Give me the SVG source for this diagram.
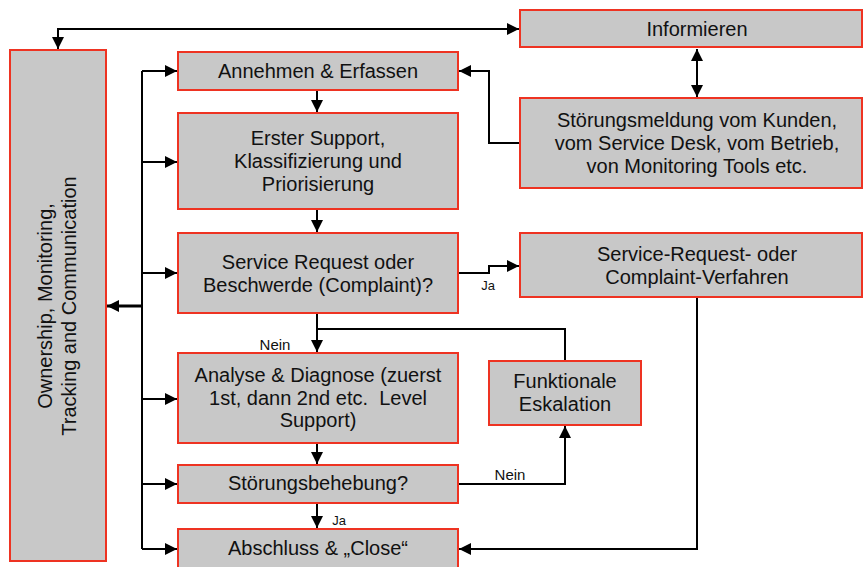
<svg xmlns="http://www.w3.org/2000/svg" width="863" height="567" viewBox="0 0 863 567">
<defs>
<style>
.box{fill:#c8c8c8;stroke:#ee3322;stroke-width:2}
.t{font-family:"Liberation Sans",Arial,sans-serif;font-size:20px;fill:#111;text-anchor:middle}
.lbl{font-family:"Liberation Sans",Arial,sans-serif;fill:#111;text-anchor:middle}
.c{fill:none;stroke:#000;stroke-width:2}
</style>
<marker id="ah" viewBox="0 0 12 12" refX="12" refY="6" markerWidth="12" markerHeight="12" markerUnits="userSpaceOnUse" orient="auto-start-reverse">
<path d="M0,0 L12,6 L0,12 Z" fill="#000"/>
</marker>
</defs>
<rect width="863" height="567" fill="#fff"/>

<g id="connectors">
<path class="c" d="M58,49 L58,29 L519,29" marker-start="url(#ah)" marker-end="url(#ah)"/>
<path class="c" d="M697,49 L697,97" marker-start="url(#ah)" marker-end="url(#ah)"/>
<path class="c" d="M520,143 L489,143 L489,71 L459,71" marker-end="url(#ah)"/>
<path class="c" d="M317,91 L317,112" marker-end="url(#ah)"/>
<path class="c" d="M317,210 L317,232" marker-end="url(#ah)"/>
<path class="c" d="M459,273 L489,273 L489,266 L519,266" marker-end="url(#ah)"/>
<path class="c" d="M317,314 L317,352" marker-end="url(#ah)"/>
<path class="c" d="M317,329 L565,329 L565,361"/>
<path class="c" d="M317,444 L317,464" marker-end="url(#ah)"/>
<path class="c" d="M459,484 L565,484 L565,426" marker-end="url(#ah)"/>
<path class="c" d="M317,504 L317,528" marker-end="url(#ah)"/>
<path class="c" d="M697,298 L697,549 L459,549" marker-end="url(#ah)"/>
<path class="c" d="M142,71 L142,549"/>
<path class="c" d="M142,71 L177,71" marker-end="url(#ah)"/>
<path class="c" d="M142,162 L177,162" marker-end="url(#ah)"/>
<path class="c" d="M142,273 L177,273" marker-end="url(#ah)"/>
<path class="c" d="M142,399 L177,399" marker-end="url(#ah)"/>
<path class="c" d="M142,484 L177,484" marker-end="url(#ah)"/>
<path class="c" d="M142,549 L177,549" marker-end="url(#ah)"/>
<path class="c" style="stroke-width:3" d="M142,306 L107,306" marker-end="url(#ah)"/>
<text class="lbl" font-size="15" x="275" y="350">Nein</text>
<text class="lbl" font-size="13" x="488" y="290">Ja</text>
<text class="lbl" font-size="15" x="510" y="480">Nein</text>
<text class="lbl" font-size="13" x="339" y="525">Ja</text>
</g>

<g id="ownership">
<rect class="box" x="10" y="50" width="96" height="511"/>
<text class="t" transform="translate(52,306) rotate(-90)"><tspan x="0" y="0">Ownership, Monitoring,</tspan><tspan x="0" y="24">Tracking and Communication</tspan></text>
</g>

<g id="informieren">
<rect class="box" x="520" y="10" width="342" height="37"/>
<text class="t" x="697" y="36">Informieren</text>
</g>

<g id="stoerungsmeldung">
<rect class="box" x="520" y="98" width="342" height="90"/>
<text class="t" x="697" y="127">Störungsmeldung vom Kunden,</text>
<text class="t" x="697" y="150">vom Service Desk, vom Betrieb,</text>
<text class="t" x="697" y="173">von Monitoring Tools etc.</text>
</g>

<g id="annehmen">
<rect class="box" x="178" y="52" width="280" height="38"/>
<text class="t" x="318" y="78">Annehmen &amp; Erfassen</text>
</g>

<g id="erster-support">
<rect class="box" x="178" y="113" width="280" height="96"/>
<text class="t" x="318" y="145">Erster Support,</text>
<text class="t" x="318" y="168">Klassifizierung und</text>
<text class="t" x="318" y="191">Priorisierung</text>
</g>

<g id="service-request">
<rect class="box" x="178" y="233" width="280" height="80"/>
<text class="t" x="318" y="269">Service Request oder</text>
<text class="t" x="318" y="292">Beschwerde (Complaint)?</text>
</g>

<g id="sr-verfahren">
<rect class="box" x="520" y="233" width="342" height="64"/>
<text class="t" x="697" y="261">Service-Request- oder</text>
<text class="t" x="697" y="284">Complaint-Verfahren</text>
</g>

<g id="analyse">
<rect class="box" x="178" y="353" width="280" height="90"/>
<text class="t" x="318" y="382">Analyse &amp; Diagnose (zuerst</text>
<text class="t" x="318" y="405" xml:space="preserve">1st, dann 2nd etc.  Level</text>
<text class="t" x="318" y="427">Support)</text>
</g>

<g id="eskalation">
<rect class="box" x="489" y="361" width="152" height="64"/>
<text class="t" x="565" y="388">Funktionale</text>
<text class="t" x="565" y="411">Eskalation</text>
</g>

<g id="behebung">
<rect class="box" x="178" y="465" width="280" height="38"/>
<text class="t" x="318" y="490">Störungsbehebung?</text>
</g>

<g id="abschluss">
<rect class="box" x="178" y="529" width="280" height="40"/>
<text class="t" x="318" y="555">Abschluss &amp; „Close“</text>
</g>
</svg>
